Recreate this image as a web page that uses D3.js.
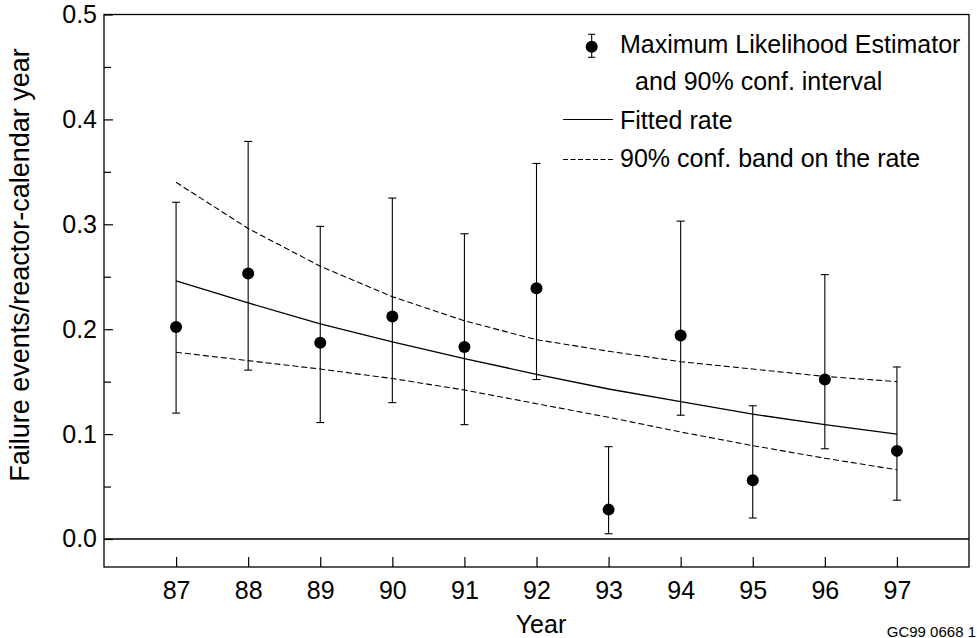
<!DOCTYPE html>
<html>
<head>
<meta charset="utf-8">
<script src="https://cdn.jsdelivr.net/npm/d3@7"></script>
<style>
  body { margin: 0; background: #fff; }
  text { font-family: "Liberation Sans", Arial, sans-serif; fill: #000; }
</style>
</head>
<body>
<script>
// data
var years = [87, 88, 89, 90, 91, 92, 93, 94, 95, 96, 97];
var mle   = [0.202, 0.253, 0.187, 0.212, 0.183, 0.239, 0.028, 0.194, 0.056, 0.152, 0.084];
var ciLow = [0.120, 0.161, 0.111, 0.130, 0.109, 0.152, 0.005, 0.118, 0.020, 0.086, 0.037];
var ciUp  = [0.321, 0.379, 0.298, 0.325, 0.291, 0.358, 0.088, 0.303, 0.127, 0.252, 0.164];
var fitted   = [0.246, 0.225, 0.205, 0.188, 0.172, 0.157, 0.143, 0.131, 0.119, 0.109, 0.100];
var bandUp   = [0.340, 0.296, 0.260, 0.231, 0.208, 0.190, 0.179, 0.169, 0.162, 0.155, 0.150];
var bandLow  = [0.178, 0.170, 0.162, 0.153, 0.142, 0.129, 0.116, 0.102, 0.089, 0.077, 0.066];
var yTicks = [0.0, 0.1, 0.2, 0.3, 0.4, 0.5];
var yMinor = [0.05, 0.15, 0.25, 0.35, 0.45];

var width = 977;
var height = 638;
var margin = { top: 14.5, right: 8, bottom: 71, left: 104 };

var svg = d3.select("body").append("svg")
    .attr("width", width)
    .attr("height", height);

var plotW = width - margin.left - margin.right;
var plotH = height - margin.top - margin.bottom;

var x = d3.scaleLinear().domain([86, 98]).range([0, plotW]);
var y = d3.scaleLinear().domain([-0.0267, 0.5]).range([plotH, 0]);

var g = svg.append("g")
    .attr("transform", "translate(" + margin.left + "," + margin.top + ")");

// y axis (ticks inside)
var yAxis = d3.axisLeft(y)
    .tickValues(yTicks)
    .tickFormat(d3.format(".1f"))
    .tickSizeInner(-9)
    .tickSizeOuter(0)
    .tickPadding(7);

var ya = g.append("g").call(yAxis);
ya.select(".domain").remove();
ya.selectAll("text").style("font-size", "25px");
ya.selectAll("line").attr("stroke", "#000").attr("stroke-width", 1.2);

var ym = g.append("g").call(d3.axisLeft(y).tickValues(yMinor).tickFormat("").tickSizeInner(-7).tickSizeOuter(0));
ym.select(".domain").remove();
ym.selectAll("line").attr("stroke", "#000").attr("stroke-width", 1.2);

// x axis (ticks inside)
var xAxis = d3.axisBottom(x)
    .tickValues(years)
    .tickFormat(d3.format("d"))
    .tickSizeInner(-10)
    .tickSizeOuter(0)
    .tickPadding(14);

var xa = g.append("g")
    .attr("transform", "translate(0," + plotH + ")")
    .call(xAxis);
xa.select(".domain").remove();
xa.selectAll("text").style("font-size", "25px");
xa.selectAll("line").attr("stroke", "#000").attr("stroke-width", 1.2);

// frame
g.append("rect")
    .attr("width", plotW)
    .attr("height", plotH)
    .attr("fill", "none")
    .attr("stroke", "#000")
    .attr("stroke-width", 1.3);

// zero line
g.append("line")
    .attr("x1", 0).attr("x2", plotW)
    .attr("y1", y(0)).attr("y2", y(0))
    .attr("stroke", "#000")
    .attr("stroke-width", 1.3);

// fitted rate and band
var line = function(vals) {
    return d3.line()
        .x(function(d, i) { return x(years[i]); })
        .y(function(d) { return y(d); })(vals);
};

g.append("path").attr("d", line(fitted))
    .attr("fill", "none").attr("stroke", "#000").attr("stroke-width", 1.3);
g.append("path").attr("d", line(bandUp))
    .attr("fill", "none").attr("stroke", "#000").attr("stroke-width", 1.1)
    .attr("stroke-dasharray", "6,3");
g.append("path").attr("d", line(bandLow))
    .attr("fill", "none").attr("stroke", "#000").attr("stroke-width", 1.1)
    .attr("stroke-dasharray", "6,3");

// error bars
var bars = g.selectAll(".bar").data(years).enter().append("g");
bars.append("line")
    .attr("x1", function(d) { return x(d); })
    .attr("x2", function(d) { return x(d); })
    .attr("y1", function(d, i) { return y(ciLow[i]); })
    .attr("y2", function(d, i) { return y(ciUp[i]); })
    .attr("stroke", "#000").attr("stroke-width", 1.1);
[ciLow, ciUp].forEach(function(arr) {
    bars.append("line")
        .attr("x1", function(d) { return x(d) - 4; })
        .attr("x2", function(d) { return x(d) + 4; })
        .attr("y1", function(d, i) { return y(arr[i]); })
        .attr("y2", function(d, i) { return y(arr[i]); })
        .attr("stroke", "#000").attr("stroke-width", 1.1);
});
bars.append("circle")
    .attr("cx", function(d) { return x(d); })
    .attr("cy", function(d, i) { return y(mle[i]); })
    .attr("r", 6)
    .attr("fill", "#000");

// legend
var lg = svg.append("g");
lg.append("line").attr("x1", 591.7).attr("x2", 591.7).attr("y1", 34.3).attr("y2", 57.3)
    .attr("stroke", "#000").attr("stroke-width", 1.1);
lg.append("line").attr("x1", 588.2).attr("x2", 595.2).attr("y1", 34.3).attr("y2", 34.3)
    .attr("stroke", "#000").attr("stroke-width", 1.1);
lg.append("line").attr("x1", 588.2).attr("x2", 595.2).attr("y1", 57.3).attr("y2", 57.3)
    .attr("stroke", "#000").attr("stroke-width", 1.1);
lg.append("circle").attr("cx", 591.7).attr("cy", 46.7).attr("r", 6).attr("fill", "#000");
lg.append("line").attr("x1", 563).attr("x2", 613).attr("y1", 119.5).attr("y2", 119.5)
    .attr("stroke", "#000").attr("stroke-width", 1.2);
lg.append("line").attr("x1", 563).attr("x2", 613).attr("y1", 159.5).attr("y2", 159.5)
    .attr("stroke", "#000").attr("stroke-width", 1.1).attr("stroke-dasharray", "5,2.5");

var legendText = [
    ["Maximum Likelihood Estimator", 620, 53],
    ["and 90% conf. interval", 635, 89.5],
    ["Fitted rate", 620, 128.5],
    ["90% conf. band on the rate", 620, 166.5]
];
lg.selectAll(".lt").data(legendText).enter().append("text")
    .attr("x", function(d) { return d[1]; })
    .attr("y", function(d) { return d[2]; })
    .style("font-size", "25px")
    .text(function(d) { return d[0]; });

// axis titles
svg.append("text")
    .attr("x", 541).attr("y", 633.3)
    .attr("text-anchor", "middle")
    .style("font-size", "25px")
    .text("Year");

svg.append("text")
    .attr("transform", "translate(29," + 265 + ") rotate(-90)")
    .attr("text-anchor", "middle")
    .style("font-size", "27px")
    .text("Failure events/reactor-calendar year");

svg.append("text")
    .attr("x", 976).attr("y", 636.5)
    .attr("text-anchor", "end")
    .style("font-size", "15px")
    .text("GC99 0668 1");
</script>
</body>
</html>
